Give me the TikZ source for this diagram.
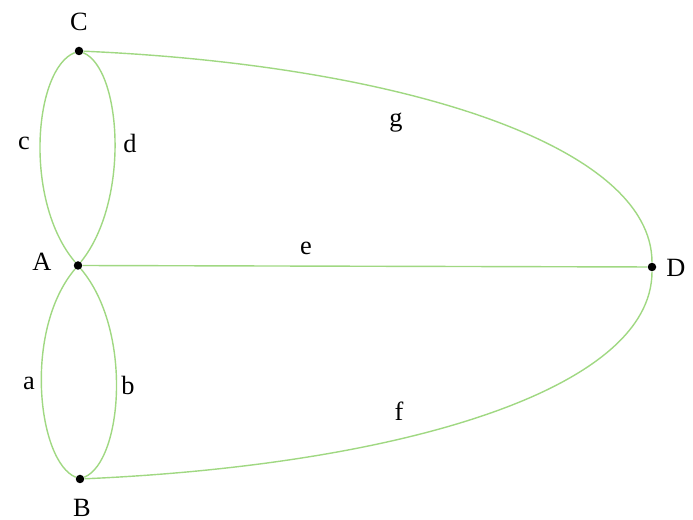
\documentclass[tikz,border=0pt]{standalone}
\usepackage{fontspec}
\setmainfont{Liberation Serif}
\definecolor{edgegreen}{RGB}{160,216,130}
\begin{document}
\begin{tikzpicture}[>=stealth]
        % --- Styles ---
        \tikzset{
            vertex/.style={circle, fill=black, inner sep=0pt, minimum size=0.17cm},
            vlabel/.style={font=\fontsize{15}{18}\selectfont},
            elabel/.style={font=\fontsize{15}{18}\selectfont},
            edge/.style={draw=edgegreen, line width=0.8pt}
        }

        % Cadre (proportions de la figure)
        \useasboundingbox (0,0) rectangle (13.86,10.4);

        % Sommets
        \node[vertex] (C) at (1.58, 9.38) {};
        \node[vertex] (A) at (1.56, 5.09) {};
        \node[vertex] (B) at (1.60, 0.82) {};
        \node[vertex] (D) at (13.04, 5.06) {};

        % Noms des sommets
        \node[vlabel] (labC) at (1.58, 9.96) {C};
        \node[vlabel] (labA) at (0.84, 5.16) {A};
        \node[vlabel] (labB) at (1.64, 0.24) {B};
        \node[vlabel] (labD) at (13.52, 5.04) {D};

        % Arêtes
        \draw[edge] (C) .. controls +(-0.9,-0.35) and +(-1.1,1.3) .. (A);  % c
        \draw[edge] (C) .. controls +(0.85,-0.35) and +(1.05,1.3) .. (A);  % d
        \draw[edge] (A) .. controls +(-1.1,-1.3) and +(-0.85,0.35) .. (B);  % a
        \draw[edge] (A) .. controls +(1.1,-1.3) and +(0.85,0.35) .. (B);  % b
        \draw[edge] (A) -- (D);  % e
        \draw[edge] (C) .. controls (8.0, 9.1) and (13.04, 7.5) .. (D);  % g
        \draw[edge] (B) .. controls (8.0, 1.1) and (13.04, 2.6) .. (D);  % f

        % Étiquettes des arêtes
        \node[elabel] (lc) at (0.48, 7.54) {c};
        \node[elabel] (ld) at (2.60, 7.54) {d};
        \node[elabel] (la) at (0.58, 2.74) {a};
        \node[elabel] (lb) at (2.56, 2.70) {b};
        \node[elabel] (le) at (6.12, 5.44) {e};
        \node[elabel] (lg) at (7.92, 7.94) {g};
        \node[elabel] (lf) at (7.98, 2.18) {f};

    \end{tikzpicture}
\end{document}
